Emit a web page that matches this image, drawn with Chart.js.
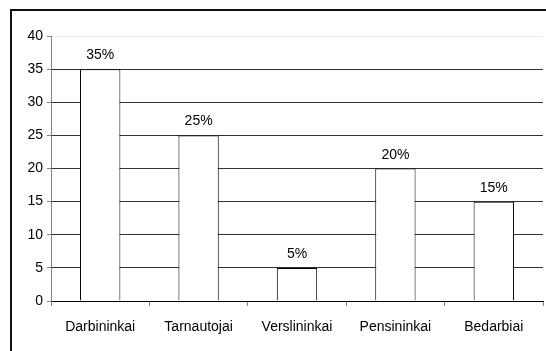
<!DOCTYPE html>
<html>
<head>
<meta charset="utf-8">
<script src="https://cdn.jsdelivr.net/npm/chart.js@4/dist/chart.umd.min.js"></script>
<style>
  html, body { margin: 0; padding: 0; background: #fff; overflow: hidden; }
  #wrap { position: relative; width: 546px; height: 351px; }
  #frame {
    position: absolute; left: 10px; top: 9px; width: 560px; height: 380px;
    border: 2px solid #111; box-sizing: border-box;
  }
  canvas { position: absolute; left: 0; top: 0; }
</style>
</head>
<body>
<div id="wrap">
  <div id="frame"></div>
  <canvas id="barChart" width="546" height="351"></canvas>
</div>
<script>
// ---------------- DATA ----------------
const categories = ["Darbininkai", "Tarnautojai", "Verslininkai", "Pensininkai", "Bedarbiai"];
const shares = [35, 25, 5, 20, 15];
const yTicks = [0, 5, 10, 15, 20, 25, 30, 35, 40];

const font = { family: "'Liberation Sans', Arial, sans-serif", size: 14 };

// ---------------- VALUE LABELS ----------------
const valueLabels = {
    id: "valueLabels",
    afterDatasetsDraw(chart) {
        const ctx = chart.ctx;
        const meta = chart.getDatasetMeta(0);
        ctx.save();
        ctx.font = font.size + "px " + font.family;
        ctx.fillStyle = "#000";
        ctx.textAlign = "center";
        ctx.textBaseline = "alphabetic";
        meta.data.forEach((bar, i) => {
            ctx.fillText(shares[i] + "%", bar.x, bar.y - 10);
        });
        ctx.restore();
    }
};

// ---------------- BAR CHART ----------------
new Chart(document.getElementById("barChart"), {
    type: "bar",
    data: {
        labels: categories,
        datasets: [{
            data: shares,
            backgroundColor: "#fff",
            borderColor: "#000",
            borderWidth: 1,
            borderSkipped: "bottom",
            categoryPercentage: 1,
            barPercentage: 0.41
        }]
    },
    options: {
        responsive: false,
        animation: false,
        layout: { padding: { top: 36, right: 3, left: 0, bottom: 0 } },
        plugins: {
            legend: { display: false },
            tooltip: { enabled: false }
        },
        scales: {
            x: {
                offset: true,
                grid: {
                    offset: true,
                    drawOnChartArea: false,
                    tickLength: 5,
                    tickColor: "#808080"
                },
                border: { color: "#000", width: 1 },
                ticks: { color: "#000", font: font, padding: 13, maxRotation: 0 },
                afterFit(scale) { scale.height = 50; }
            },
            y: {
                min: 0,
                max: 40,
                afterBuildTicks(scale) { scale.ticks = yTicks.map(v => ({ value: v })); },
                grid: {
                    color: c => c.tick && c.tick.value === 40 ? "#eeeeee" : "#333",
                    tickLength: 4,
                    tickColor: "#808080"
                },
                border: { color: "#808080", width: 1 },
                ticks: { color: "#000", font: font, padding: 4 },
                afterFit(scale) { scale.width = 51; }
            }
        }
    },
    plugins: [valueLabels]
});
</script>
</body>
</html>
